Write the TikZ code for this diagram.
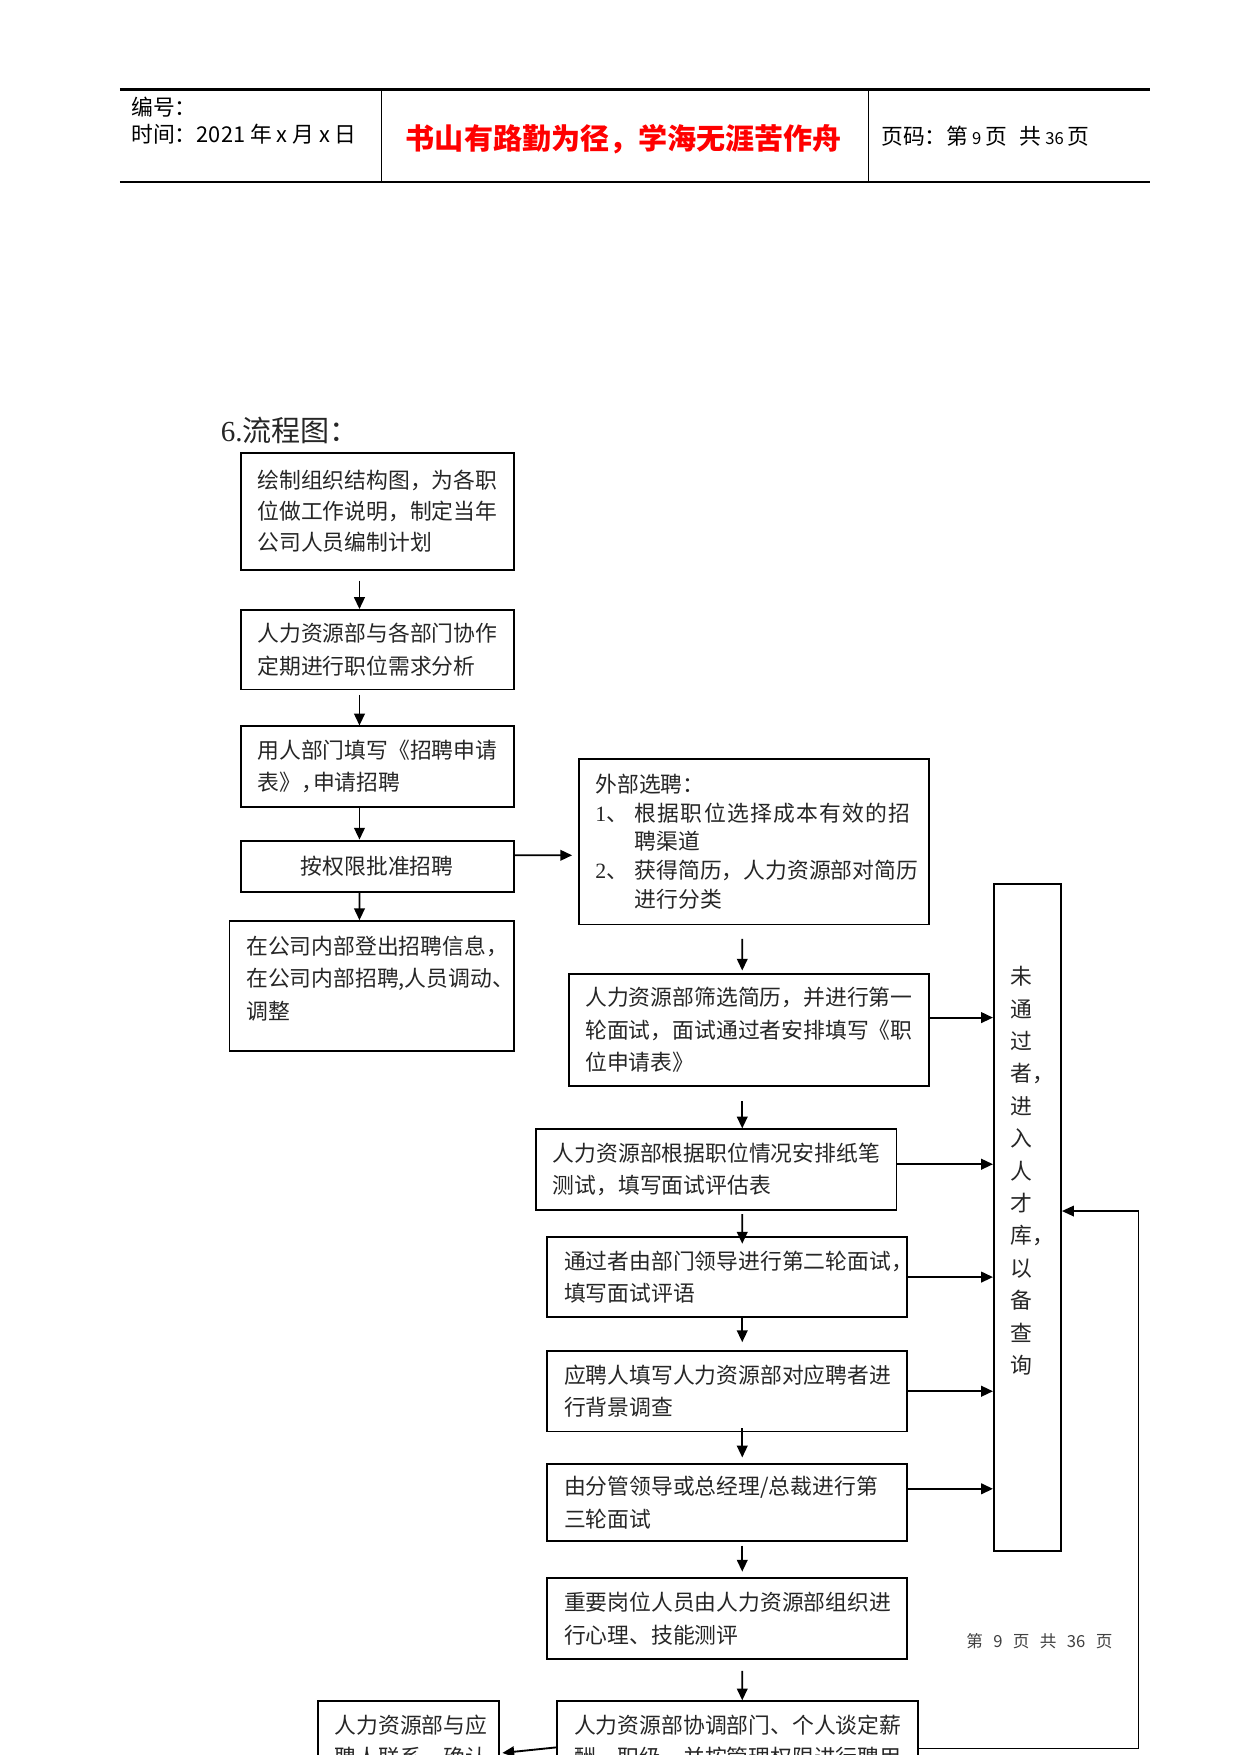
\documentclass[tikz,border=0pt]{standalone}
\usepackage{fontspec}
\setmainfont{Liberation Serif}
\newfontfamily\cjk{Noto Sans CJK SC}
\newfontfamily\cjkw{Noto Sans CJK SC}[LetterSpace=6]
\usetikzlibrary{arrows.meta,calc}
\tikzset{
  bx/.style={draw=black, line width=0.9pt, inner xsep=2.841mm, inner ysep=0pt, align=left, text=black!85, font=\cjk\fontsize{10.5}{15.6}\selectfont},
  arr/.style={draw=black, line width=0.9pt, -{Triangle[length=2.0mm,width=1.8mm]}},
  thinarr/.style={draw=black, line width=0.6pt, -{Triangle[length=2.0mm,width=1.8mm]}},
  hd/.style={inner sep=0pt, font=\cjk\fontsize{10.5}{12}\selectfont, anchor=west, text=black},
}
\begin{document}
\begin{tikzpicture}[x=0.18941mm,y=-0.18941mm]
\useasboundingbox (0,0) rectangle (1108.7,1568);
\clip (0,0) rectangle (1108.7,1568);
% header
\coordinate (hdA) at (107,80);
\coordinate (hdB) at (1027,80);
\coordinate (hdC) at (107,163);
\coordinate (hdD) at (1027,163);
\coordinate (hdV1) at (341,80);
\coordinate (hdV2) at (776,80);
\draw[line width=1pt] (hdA) -- (hdB);
\draw[line width=1pt] (hdC) -- (hdD);
\draw[line width=0.5pt] (hdV1) -- (hdV1 |- hdC);
\draw[line width=0.5pt] (hdV2) -- (hdV2 |- hdC);
\node[hd] (hno) at (117,96) {编号：};
\node[hd] (htime) at (117,120) {时间：2021 年 x 月 x 日};
\node[hd, anchor=center, text=red, font=\cjk\bfseries\fontsize{14}{16}\selectfont] (hmotto) at (557.5,124) {书山有路勤为径，学海无涯苦作舟};
\node[hd] (hpage) at (787,122) {页码：第\,{\fontsize{8}{8}\selectfont 9}\,页\hspace{0.6em}共\,{\fontsize{8}{8}\selectfont 36}\,页};
% title
\node[anchor=west, inner sep=0pt, font=\fontsize{14}{16}\selectfont, text=black!85] (title) at (197,385) {6.{\cjk 流程图：}};
% left column
\node[bx, text width=40.534mm, minimum height=19.699mm, font=\cjk\fontsize{10.5}{15}\selectfont] (A) at (337,457) {绘制组织结构图，为各职\\位做工作说明，制定当年\\公司人员编制计划};
\node[bx, text width=40.534mm, minimum height=13.448mm] (B) at (337,580.5) {人力资源部与各部门协作\\定期进行职位需求分析};
\node[bx, text width=40.534mm, minimum height=13.638mm] (C) at (337,685) {用人部门填写《招聘申请\\表》\makebox[0.55em][l]{，}申请招聘};
\node[bx, text width=40.534mm, minimum height=8.713mm, align=center] (D) at (337,774) {按权限批准招聘};
\node[bx, text width=42.428mm, minimum height=21.972mm] (E) at (332,881) {在公司内部登出招聘信息，\\在公司内部招聘,人员调动、\\调整\par\kern7.5pt};
% right column
\node[bx, text width=53.603mm, minimum height=28.033mm, font=\cjk\fontsize{10.5}{13.9}\selectfont] (F) at (673.5,752) {外部选聘：\\\makebox[1.8em][l]{{\rmfamily 1}、}{\cjkw 根据职位选择成本有效的招}\\\hspace*{1.8em}聘渠道\\\makebox[1.8em][l]{{\rmfamily 2}、}获得简历，人力资源部对简历\\\hspace*{1.8em}进行分类};
\node[bx, text width=55.308mm, minimum height=18.941mm] (G) at (669,920) {人力资源部筛选简历，并进行第一\\轮面试，面试通过者安排填写《职\\位申请表》};
\node[bx, text width=55.308mm, minimum height=13.638mm] (H) at (640,1045) {人力资源部根据职位情况安排纸笔\\测试，填写面试评估表};
\node[bx, text width=55.118mm, minimum height=13.638mm] (I) at (649.5,1141) {通过者由部门领导进行第二轮面试，\\填写面试评语};
\node[bx, text width=55.118mm, minimum height=13.638mm] (J) at (649.5,1243) {应聘人填写人力资源部对应聘者进\\行背景调查};
\node[bx, text width=55.118mm, minimum height=13.069mm] (K) at (649.5,1342.5) {由分管领导或总经理/总裁进行第\\三轮面试};
\node[bx, text width=55.118mm, minimum height=13.638mm] (L) at (649.5,1446) {重要岗位人员由人力资源部组织进\\行心理、技能测评};
\node[bx, text width=55.308mm, minimum height=13.638mm] (M) at (659,1556) {人力资源部协调部门、个人谈定薪\\酬、职级，并按管理权限进行聘用};
\node[bx, text width=25.002mm, minimum height=13.638mm] (N) at (365,1556) {人力资源部与应\\聘人联系，确认};
% tall box
\node[draw=black, line width=0.9pt, minimum width=11.365mm, minimum height=112.888mm, inner sep=0pt] (T) at (918,1088) {};
\node[inner sep=0pt, align=center, font=\cjk\fontsize{10.5}{15.6}\selectfont, text=black!85] (Tt) at (913,1046) {未\\通\\过\\者\rlap{，}\\进\\入\\人\\才\\库\rlap{，}\\以\\备\\查\\询};
% footer
\node[anchor=west, inner sep=0pt, font=\cjk\fontsize{8}{8}\selectfont, text=black!75] (foot) at (863,1466) {第\hspace{5pt}9\hspace{5pt}页\hspace{5pt}共\hspace{5pt}36\hspace{5pt}页};
% vertical arrows
\draw[arr] ($(A.south west)+(107,9)$) -- ($(B.north west)+(107,0)$);
\draw[arr] ($(B.south west)+(107,4)$) -- ($(C.north west)+(107,0)$);
\draw[arr] ($(C.south west)+(107,0)$) -- ($(D.north west)+(107,0)$);
\draw[arr] ($(D.south west)+(107,0)$) -- ($(E.north west)+(117,0)$);
\draw[arr] ($(D.north east)+(0,14)$) -- ($(F.north west)+(-5,87)$);
\draw[arr] ($(F.south west)+(147,12)$) -- ($(G.north west)+(156,-2)$);
\draw[arr] ($(G.south west)+(156,13)$) -- ($(H.north west)+(185,0)$);
\draw[arr] ($(H.south west)+(185,3)$) -- ($(I.north west)+(175,7)$);
\draw[arr] ($(I.south west)+(175,0)$) -- ($(J.north west)+(175,-7)$);
\draw[arr] ($(J.south west)+(175,-4)$) -- ($(K.north west)+(175,-5)$);
\draw[arr] ($(K.south west)+(175,3)$) -- ($(L.north west)+(175,-5)$);
\draw[arr] ($(L.south west)+(175,10)$) -- ($(M.north west)+(166,0)$);
% arrows to the tall box
\coordinate (g1) at ($(G.north east)+(0,40)$);
\draw[arr] (g1) -- (g1 -| T.west);
\coordinate (hr1) at ($(H.north east)+(0,32)$);
\draw[arr] (hr1) -- (hr1 -| T.west);
\draw[arr] (I.east) -- (I.east -| T.west);
\draw[arr] (J.east) -- (J.east -| T.west);
\coordinate (k1) at ($(K.north east)+(0,23)$);
\draw[arr] (k1) -- (k1 -| T.west);
\coordinate (m1) at ($(M.north east)+(0,43)$);
\coordinate (mt) at ($(T.east)+(68,-6)$);
\draw[thinarr] (m1) -| (mt) -- (mt -| T.east);
\coordinate (m2) at ($(M.north west)+(0,42)$);
\coordinate (n2) at ($(N.north east)+(2,47)$);
\draw[arr] (m2) -- (n2);
\end{tikzpicture}
\end{document}
